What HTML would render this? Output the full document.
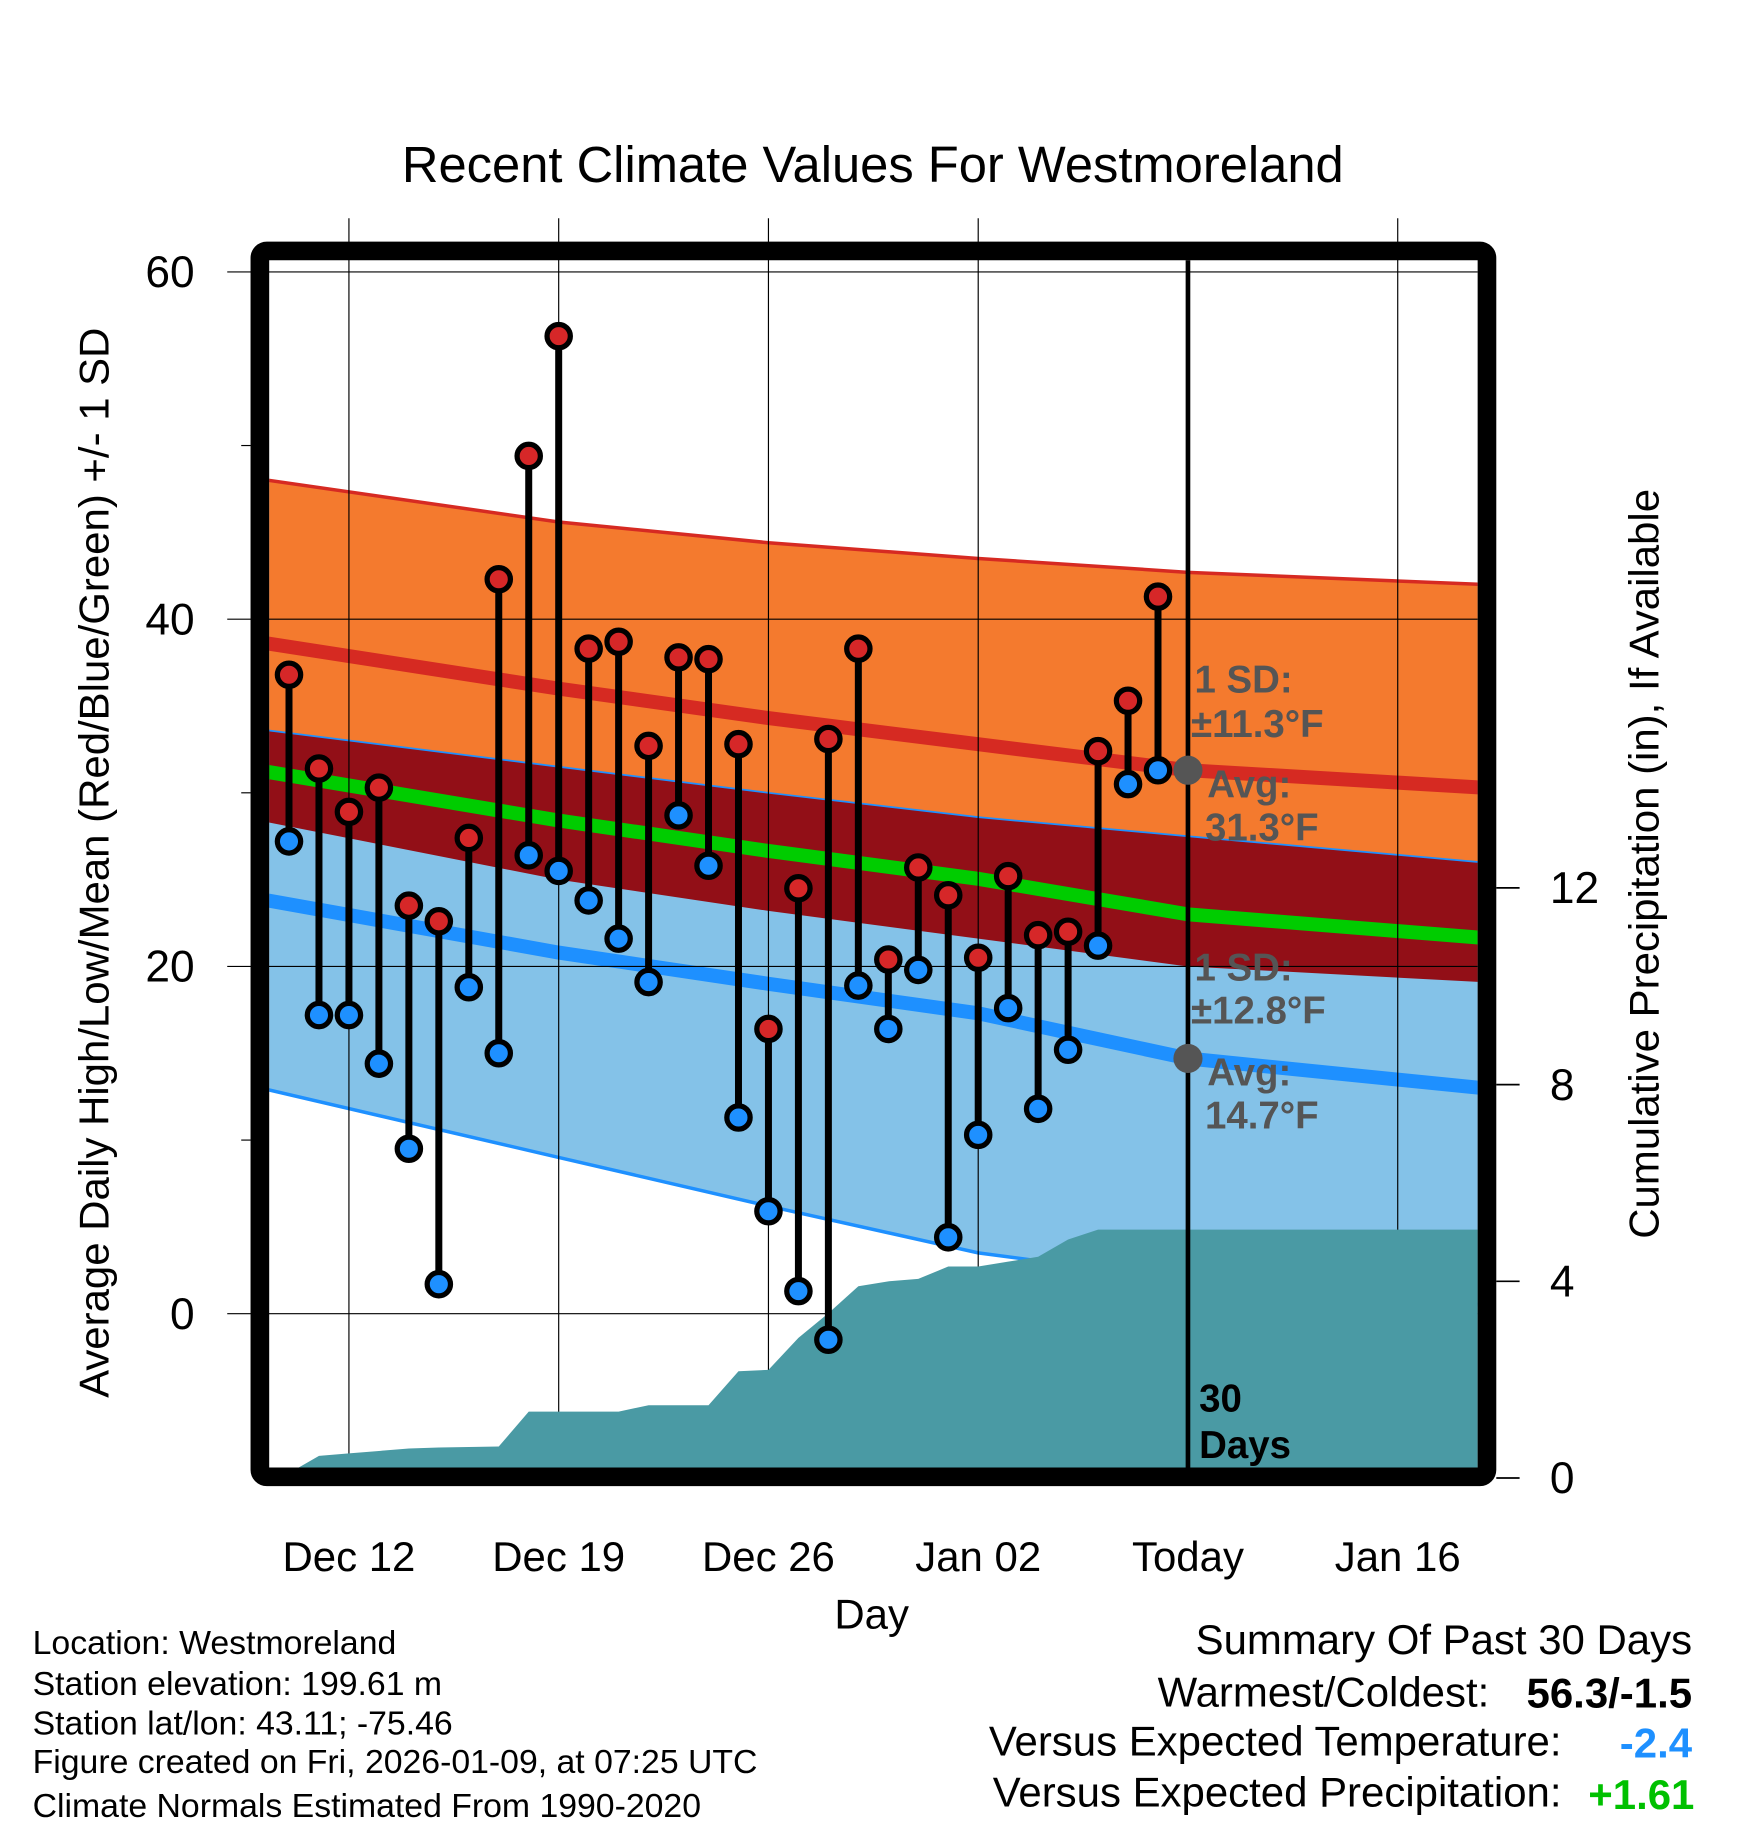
<!DOCTYPE html>
<html><head><meta charset="utf-8"><style>
html,body{margin:0;padding:0;background:#fff;}
svg{display:block;font-family:"Liberation Sans",Arial,sans-serif;}
</style></head><body>
<svg id="chart" width="1748" height="1828" viewBox="0 0 1500 1568" xmlns="http://www.w3.org/2000/svg">
<text x="749" y="156" font-size="43.5" text-anchor="middle">Recent Climate Values For Westmoreland</text>
<defs><clipPath id="plotclip"><rect x="231" y="223" width="1037" height="1036"/></clipPath></defs>
<g id="bands" clip-path="url(#plotclip)"></g>
<g id="grid"></g>
<g id="precip" clip-path="url(#plotclip)"></g>
<g id="marks"></g>
<g id="annot"></g>
<rect x="223" y="215" width="1053" height="1052" rx="6" fill="none" stroke="#000" stroke-width="16"/>
<g id="axes"></g>
<text x="748" y="1397" font-size="36" text-anchor="middle">Day</text>
<text transform="translate(93,740) rotate(-90)" font-size="36" text-anchor="middle">Average Daily High/Low/Mean (Red/Blue/Green) +/- 1 SD</text>
<text transform="translate(1423,741) rotate(-90)" font-size="36" text-anchor="middle">Cumulative Precipitation (in), If Available</text>
<g font-size="29">
<text x="28" y="1419">Location: Westmoreland</text>
<text x="28" y="1454">Station elevation: 199.61 m</text>
<text x="28" y="1488">Station lat/lon: 43.11; -75.46</text>
<text x="28" y="1521">Figure created on Fri, 2026-01-09, at 07:25 UTC</text>
<text x="28" y="1559">Climate Normals Estimated From 1990-2020</text>
</g>
<g font-size="36">
<text x="1452" y="1419" text-anchor="end">Summary Of Past 30 Days</text>
<text x="1278" y="1464" text-anchor="end">Warmest/Coldest:</text>
<text x="1452" y="1465" text-anchor="end" font-weight="bold">56.3/-1.5</text>
<text x="1340" y="1506" text-anchor="end">Versus Expected Temperature:</text>
<text x="1452" y="1508" text-anchor="end" font-weight="bold" fill="#1e90ff">-2.4</text>
<text x="1340" y="1550" text-anchor="end">Versus Expected Precipitation:</text>
<text x="1454" y="1552" text-anchor="end" font-weight="bold" fill="#00c000">+1.61</text>
</g>
</svg>
<script>
// ---- data ----
const highs = [36.8,31.4,28.9,30.3,23.5,22.6,27.4,42.3,49.4,56.3,38.3,38.7,32.7,37.8,37.7,32.8,16.4,24.5,33.1,38.3,20.4,25.7,24.1,20.5,25.2,21.8,22.0,32.4,35.3,41.3];
const lows = [27.2,17.2,17.2,14.4,9.5,1.7,18.8,15.0,26.4,25.5,23.8,21.6,19.1,28.7,25.8,11.3,5.9,1.3,-1.5,18.9,16.4,19.8,4.4,10.3,17.6,11.8,15.2,21.2,30.5,31.3];
const precipCum = [0.1,0.45,0.5,0.55,0.6,0.62,0.63,0.64,1.35,1.35,1.35,1.35,1.48,1.48,1.48,2.17,2.2,2.85,3.35,3.9,4.0,4.05,4.3,4.3,4.4,4.5,4.85,5.05,5.05];
const normDays = [-0.7,9,16,23,30,39.8];
const highUpper = [48.0,45.6,44.4,43.5,42.7,42.0];
const highMean = [38.6,36.0,34.3,32.8,31.3,30.3];
const lowUpper = [33.6,31.5,30.0,28.6,27.5,26.0];
const highLower = [28.3,25.0,23.2,21.6,20.0,19.1];
const lowMean = [23.8,20.8,19.0,17.3,14.7,13.0];
const lowLower = [12.9,9.0,6.2,3.5,1.9,0.5];
const xTickLabels = ["Dec 12","Dec 19","Dec 26","Jan 02","Today","Jan 16"];
const xTickDays = [2,9,16,23,30,37];
const yTicks = [0,20,40,60];
const y2Ticks = [0,4,8,12];
// ---- scales ----
const X = d => 248 + d*25.714;
const Y = t => 1127 - t*14.9;
const P = p => 1268 - p*42.2;
const NS = "http://www.w3.org/2000/svg";
function mk(tag, attrs, parent){const e=document.createElementNS(NS,tag);for(const k in attrs)e.setAttribute(k,attrs[k]);parent.appendChild(e);return e;}
const bands=document.getElementById('bands'),grid=document.getElementById('grid'),precip=document.getElementById('precip'),marks=document.getElementById('marks'),annot=document.getElementById('annot'),axes=document.getElementById('axes');
function line(arr){return normDays.map((d,i)=>X(d).toFixed(1)+','+Y(arr[i]).toFixed(1)).join(' ');}
function area(up,lo){return normDays.map((d,i)=>X(d)+','+Y(up[i])).join(' ')+' '+normDays.map((d,i)=>X(d)+','+Y(lo[i])).reverse().join(' ');}
let e;
e=mk('polygon',{points:area(highUpper,highLower),fill:'#f47a2e'},bands);

e=mk('polygon',{points:area(lowUpper,lowLower),fill:'#84c2e8'},bands);

e=mk('polygon',{points:area(lowUpper,highLower),fill:'#920f17'},bands);

mk('polyline',{points:line(highUpper),fill:'none',stroke:'#d62a22','stroke-width':3},bands);
mk('polyline',{points:line(lowUpper),fill:'none',stroke:'#1e90ff','stroke-width':1.5},bands);
mk('polyline',{points:line(lowLower),fill:'none',stroke:'#1e90ff','stroke-width':3},bands);
e=mk('polyline',{points:line(highMean),fill:'none',stroke:'#d62a22','stroke-width':12},bands);

e=mk('polyline',{points:line(lowMean),fill:'none',stroke:'#1e90ff','stroke-width':12},bands);

const meanArr=highMean.map((h,i)=>(h+lowMean[i])/2);
e=mk('polyline',{points:line(meanArr),fill:'none',stroke:'#00cc00','stroke-width':12},bands);

// grid
xTickDays.forEach((d,i)=>{
  if(xTickLabels[i]!=="Today"){e=mk('line',{x1:X(d),x2:X(d),y1:187,y2:1259,stroke:'#000','stroke-width':1},grid);
  }
});
yTicks.forEach(t=>{e=mk('line',{x1:195,x2:1268,y1:Y(t),y2:Y(t),stroke:'#000','stroke-width':1},grid);
});
// precip
let pts=[X(-0.7)+','+P(0)];
precipCum.forEach((p,i)=>pts.push(X(i)+','+P(p)));
pts.push(X(39.8)+','+P(precipCum[precipCum.length-1]));
pts.push(X(39.8)+','+P(-1));pts.push(X(-0.7)+','+P(-1));
e=mk('polygon',{points:pts.join(' '),fill:'#4a9aa4'},precip);

// today line
e=mk('line',{x1:X(30),x2:X(30),y1:223,y2:1259,stroke:'#000','stroke-width':4},marks);

// daily bars
highs.forEach((h,i)=>{
  const l=lows[i],x=X(i);
  e=mk('line',{x1:x,x2:x,y1:Y(h),y2:Y(l),stroke:'#000','stroke-width':6},marks);
  
  e=mk('circle',{cx:x,cy:Y(h),r:10,fill:'#d62728',stroke:'#000','stroke-width':4.5},marks);
  
  e=mk('circle',{cx:x,cy:Y(l),r:10,fill:'#1e90ff',stroke:'#000','stroke-width':4.5},marks);
  
});
// annotations
e=mk('circle',{cx:X(30),cy:Y(highMean[4]),r:12.5,fill:'#555'},annot);

e=mk('circle',{cx:X(30),cy:Y(lowMean[4]),r:12.5,fill:'#555'},annot);

const ann=[["1 SD:",1025,594],["\u00b111.3\u00b0F",1022,632],["Avg:",1036,684],["31.3\u00b0F",1034,721],["1 SD:",1025,841],["\u00b112.8\u00b0F",1022,878],["Avg:",1036,931],["14.7\u00b0F",1034,968]];
ann.forEach(a=>{e=mk('text',{x:a[1],y:a[2],'font-size':33,'font-weight':'bold',fill:'#555'},annot);e.textContent=a[0];
});
[["30",1211],["Days",1251]].forEach(a=>{e=mk('text',{x:1029,y:a[1],'font-size':33,'font-weight':'bold'},annot);e.textContent=a[0];
});
// axes ticks & labels
xTickDays.forEach((d,i)=>{
  e=mk('text',{x:X(d),y:1348,'font-size':36,'text-anchor':'middle'},axes);e.textContent=xTickLabels[i];
  
});
yTicks.forEach(t=>{e=mk('text',{x:167,y:Y(t)+13,'font-size':38,'text-anchor':'end'},axes);e.textContent=t;
});
[10,30,50].forEach(t=>mk('line',{x1:207,x2:215,y1:Y(t),y2:Y(t),stroke:'#000','stroke-width':1},axes));
y2Ticks.forEach(p=>{
  mk('line',{x1:1284,x2:1304,y1:P(p),y2:P(p),stroke:'#000','stroke-width':1.5},axes);
  e=mk('text',{x:1330,y:P(p)+13,'font-size':38,'text-anchor':'start'},axes);e.textContent=p;
  
});
</script>
</body></html>
